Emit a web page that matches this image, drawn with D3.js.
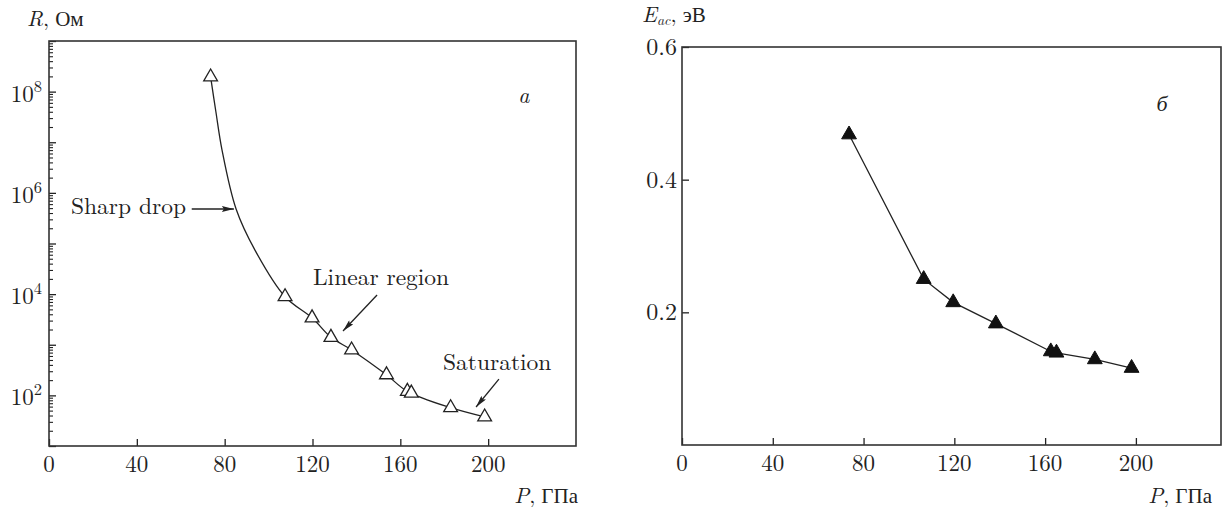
<!DOCTYPE html>
<html><head><meta charset="utf-8">
<script src="https://cdn.jsdelivr.net/npm/d3@7"></script>
<style>
body{margin:0;background:#fff}
svg{display:block}
</style>
</head><body>
<svg id="c" width="1223" height="511"></svg>
<script>
// ---------- data ----------
// panel a: resistance vs pressure (open triangles)
const pressureA   = [73.6, 107.5, 119.8, 128.4, 137.8, 153.7, 163.2, 165.0, 182.9, 198.4];
const resistanceA = [1.95e8, 8.9e3, 3.4e3, 1.4e3, 790, 255, 120, 111, 57, 37.5];
// smooth guide curve for panel a (extra points read along the steep part)
const fitPressureA   = [73.6, 76.0, 78.8, 85.2, 93.8];
const fitResistanceA = [1.95e8, 4.0e7, 7.0e6, 4.8e5, 7.4e4];
// panel б: activation energy vs pressure (filled triangles)
const pressureB = [73.6, 106.5, 119.5, 138.3, 162.5, 165.0, 181.9, 198.1];
const energyB   = [0.468, 0.250, 0.215, 0.183, 0.141, 0.139, 0.129, 0.116];
// ticks
const xTicks   = [0, 40, 80, 120, 160, 200];
const yTicksA  = [1e2, 1e4, 1e6, 1e8];
const yTickExpA = ["2", "4", "6", "8"];
const yTicksB  = [0.2, 0.4, 0.6];
const yTickLabelsB = ["0.2", "0.4", "0.6"];
// annotations (data space of panel a)
const annoText  = ["Sharp drop", "Linear region", "Saturation"];
const annoTextP = [10.0, 120.2, 179.4];
const annoTextR = [3.83e5, 1.51e4, 316];
const arrowFromP = [65.0, 149.4, 204.9];
const arrowFromR = [4.8e5, 9.6e3, 210];
const arrowToP   = [84.2, 133.9, 194.5];
const arrowToR   = [4.8e5, 1.87e3, 59];

// ---------- fonts ----------
const LAT = '"Latin Modern Roman", serif';
const CYR = 'serif';

// ---------- setup ----------
const svg = d3.select("#c");
const ink = "#222";
const defs = svg.append("defs");
defs.append("marker").attr("id","ah").attr("viewBox","0 0 12 6")
  .attr("refX",12).attr("refY",3).attr("markerWidth",13).attr("markerHeight",6)
  .attr("markerUnits","userSpaceOnUse").attr("orient","auto")
  .append("path").attr("d","M0,0 L12,3 L0,6 L2,3 Z").attr("fill",ink);

function txt(g){ return g.append("text").attr("font-family",LAT).attr("fill",ink); }
function axisTitle(g, x, y, anchor, sym, sub, unit){
  const lat = txt(g).attr("y",y).attr("font-size",22);
  lat.append("tspan").attr("font-style","italic").text(sym);
  if (sub) lat.append("tspan").attr("font-style","italic").attr("font-size",14).attr("dy",3).text(sub);
  lat.append("tspan").attr("dy",sub?-3:0).text(",");
  const cyr = g.append("text").attr("font-family",CYR).attr("font-weight",400).attr("fill",ink)
    .attr("y",y).attr("font-size",21).text(unit);
  const wl = lat.node().getComputedTextLength();
  const wc = cyr.node().getComputedTextLength();
  const gap = 6;
  if (anchor === "start") { lat.attr("x",x); cyr.attr("x",x+wl+gap); }
  else { cyr.attr("x",x).attr("text-anchor","end"); lat.attr("x",x-wc-gap).attr("text-anchor","end"); }
}

// ---------- panel a ----------
const xA = d3.scaleLinear().domain([0,240]).range([49,576]);
const yA = d3.scaleLog().domain([10,1e9]).range([446,41]);

const gA = svg.append("g");
const majorA = d3.range(1,10).map(e => Math.pow(10,e));
const minorA = [];
for (let e=1;e<9;e++) for (let k=2;k<=9;k++) minorA.push(k*Math.pow(10,e));
gA.append("g").attr("transform",`translate(${xA(0)},0)`)
  .call(d3.axisRight(yA).tickValues(majorA).tickSize(7).tickFormat(""))
  .call(g=>{g.select(".domain").remove(); g.selectAll("line").attr("stroke",ink).attr("stroke-width",1.3);});
gA.append("g").attr("transform",`translate(${xA(0)},0)`)
  .call(d3.axisRight(yA).tickValues(minorA).tickSize(4).tickFormat(""))
  .call(g=>{g.select(".domain").remove(); g.selectAll("line").attr("stroke",ink).attr("stroke-width",1.1);});
gA.append("g").attr("transform",`translate(0,${yA.range()[0]})`)
  .call(d3.axisBottom(xA).tickValues(xTicks).tickSize(-7).tickFormat(""))
  .call(g=>{g.select(".domain").remove(); g.selectAll("line").attr("stroke",ink).attr("stroke-width",1.3);});
gA.append("rect").attr("x",xA(0)).attr("y",yA(1e9))
  .attr("width",xA(240)-xA(0)).attr("height",yA(10)-yA(1e9))
  .attr("fill","none").attr("stroke","#333").attr("stroke-width",1.6);
gA.selectAll("text.xl").data(xTicks).join("text").attr("class","xl").attr("font-family",LAT).attr("fill",ink)
  .attr("x",d=>xA(d)).attr("y",yA(10)+26).attr("text-anchor","middle")
  .attr("font-size",23).text(d=>d);
const yl = gA.selectAll("text.yl").data(yTicksA).join("text").attr("class","yl").attr("font-family",LAT).attr("fill",ink)
  .attr("x",42).attr("y",d=>yA(d)+10).attr("text-anchor","end").attr("font-size",23);
yl.append("tspan").text("10");
yl.append("tspan").attr("dy",-10).attr("font-size",16.5).text((d,i)=>yTickExpA[i]);
axisTitle(gA, 27, 26, "start", "R", null, "Ом");
axisTitle(gA, 578, 503, "end", "P", null, "ГПа");
txt(gA).attr("x",xA(216.3)).attr("y",yA(Math.pow(10,7.775)))
  .attr("text-anchor","middle").attr("font-style","italic").attr("font-size",22).text("a");

const curvePts = fitPressureA.map((p,i)=>[p,fitResistanceA[i]])
  .concat(pressureA.map((p,i)=>[p,resistanceA[i]]).filter(d=>d[0]>100 && d[0]!==165.0));
gA.append("path").datum(curvePts)
  .attr("d",d3.line().x(d=>xA(d[0])).y(d=>yA(d[1])).curve(d3.curveCatmullRom.alpha(0.5)))
  .attr("fill","none").attr("stroke",ink).attr("stroke-width",1.3);
const tri = d3.symbol().type(d3.symbolTriangle).size(82);
gA.selectAll("path.m").data(pressureA.map((p,i)=>[p,resistanceA[i]])).join("path").attr("class","m")
  .attr("transform",d=>`translate(${xA(d[0])},${yA(d[1])})`).attr("d",tri)
  .attr("fill","#fff").attr("stroke",ink).attr("stroke-width",1.3);
annoText.forEach((t,i)=>{
  txt(gA).attr("x",xA(annoTextP[i])).attr("y",yA(annoTextR[i])).attr("font-size",23.5).text(t);
  gA.append("line").attr("x1",xA(arrowFromP[i])).attr("y1",yA(arrowFromR[i]))
    .attr("x2",xA(arrowToP[i])).attr("y2",yA(arrowToR[i]))
    .attr("stroke",ink).attr("stroke-width",1.3).attr("marker-end","url(#ah)");
});

// ---------- panel б ----------
const xB = d3.scaleLinear().domain([0,237.5]).range([682,1221]);
const yB = d3.scaleLinear().domain([0,0.6]).range([445,47]);
const gB = svg.append("g");
gB.append("g").attr("transform",`translate(${xB(0)},0)`)
  .call(d3.axisRight(yB).tickValues(yTicksB).tickSize(7).tickFormat(""))
  .call(g=>{g.select(".domain").remove(); g.selectAll("line").attr("stroke",ink).attr("stroke-width",1.3);});
gB.append("g").attr("transform",`translate(0,${yB(0)})`)
  .call(d3.axisBottom(xB).tickValues(xTicks).tickSize(-7).tickFormat(""))
  .call(g=>{g.select(".domain").remove(); g.selectAll("line").attr("stroke",ink).attr("stroke-width",1.3);});
gB.append("rect").attr("x",xB(0)).attr("y",yB(0.6))
  .attr("width",xB(237.5)-xB(0)).attr("height",yB(0)-yB(0.6))
  .attr("fill","none").attr("stroke","#333").attr("stroke-width",1.6);
gB.selectAll("text.xl").data(xTicks).join("text").attr("class","xl").attr("font-family",LAT).attr("fill",ink)
  .attr("x",d=>xB(d)).attr("y",yB(0)+26).attr("text-anchor","middle")
  .attr("font-size",23).text(d=>d);
gB.selectAll("text.yl").data(yTicksB).join("text").attr("class","yl").attr("font-family",LAT).attr("fill",ink)
  .attr("x",677).attr("y",d=>yB(d)+8).attr("text-anchor","end")
  .attr("font-size",24).text((d,i)=>yTickLabelsB[i]);
axisTitle(gB, 642, 22, "start", "E", "ac", "эВ");
axisTitle(gB, 1212, 503, "end", "P", null, "ГПа");
gB.append("text").attr("font-family",CYR).attr("fill",ink)
  .attr("x",xB(211.5)).attr("y",yB(0.5035))
  .attr("text-anchor","middle").attr("font-style","italic").attr("font-size",22).text("б");
const ptsB = pressureB.map((p,i)=>[p,energyB[i]]);
gB.append("path").datum(ptsB)
  .attr("d",d3.line().x(d=>xB(d[0])).y(d=>yB(d[1])))
  .attr("fill","none").attr("stroke",ink).attr("stroke-width",1.3);
gB.selectAll("path.m").data(ptsB).join("path").attr("class","m")
  .attr("transform",d=>`translate(${xB(d[0])},${yB(d[1])})`)
  .attr("d",d3.symbol().type(d3.symbolTriangle).size(95))
  .attr("fill","#111").attr("stroke","#111").attr("stroke-width",1);
</script>
</body></html>
